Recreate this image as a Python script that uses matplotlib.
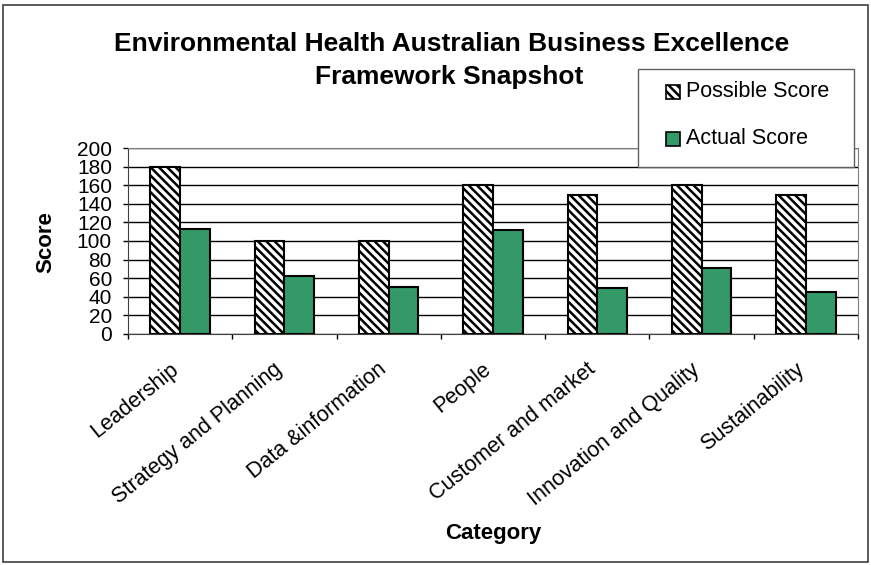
import numpy as np
import matplotlib.pyplot as plt
import matplotlib.transforms as mtransforms
from matplotlib.patches import Rectangle

plt.rcParams['font.family'] = ['Liberation Sans', 'DejaVu Sans']
plt.rcParams['hatch.linewidth'] = 1.8

categories = ['Leadership', 'Strategy and Planning', 'Data &information', 'People',
              'Customer and market', 'Innovation and Quality', 'Sustainability']
possible_score = [180, 100, 100, 160, 150, 160, 150]
actual_score = [113, 62, 51, 112, 49, 71, 45]
series_names = ['Possible Score', 'Actual Score']
title_lines = ['Environmental Health Australian Business Excellence',
               'Framework Snapshot']

green = '#339966'
stripes = '\\\\\\\\'

W, H = 871, 565
fig = plt.figure(figsize=(W / 100, H / 100), dpi=100)
ax = fig.add_axes([0.147, 0.409, 0.838, 0.329])


def px(x0, y0):
    # pixel position (from top-left) -> figure fraction
    return x0 / W, 1 - y0 / H


x = np.arange(len(categories))
w = 0.285
ax.bar(x - w / 2, possible_score, w, color='white', edgecolor='black',
       hatch=stripes, linewidth=1.5, zorder=3)
ax.bar(x + w / 2, actual_score, w, color=green, edgecolor='black',
       linewidth=1.5, zorder=3)

ax.set_xlim(-0.5, len(categories) - 0.5)
ax.set_ylim(0, 200)
ax.set_yticks(range(0, 201, 20))
ax.yaxis.grid(True, color='black', linewidth=1, zorder=0)
ax.set_axisbelow(True)

# category labels sit at centres, tick marks at the boundaries
ax.set_xticks(x)
ax.set_xticklabels(categories, rotation=39, ha='right', rotation_mode='anchor',
                   fontsize=15.5)
ax.tick_params(axis='x', which='major', length=0, pad=18)
shift = mtransforms.ScaledTranslation(-0.11, 0, fig.dpi_scale_trans)
for lbl in ax.get_xticklabels():
    lbl.set_transform(lbl.get_transform() + shift)
ax.set_xticks(np.arange(-0.5, len(categories)), minor=True)
ax.tick_params(axis='x', which='minor', length=3.6, width=1, direction='out')
ax.tick_params(axis='y', labelsize=15, length=3.6, width=1, direction='out', pad=8)

for side in ['top', 'right']:
    ax.spines[side].set_color('#808080')
for side in ['left', 'bottom']:
    ax.spines[side].set_color('#404040')

fig.text(*px(46, 242), 'Score', fontsize=16, fontweight='bold',
         rotation=90, ha='center', va='center')
fig.text(*px(493, 533), 'Category', fontsize=16, fontweight='bold',
         ha='center', va='center')

fig.text(*px(452, 44), title_lines[0], fontsize=19, fontweight='bold',
         ha='center', va='center')
fig.text(*px(449, 77), title_lines[1], fontsize=19, fontweight='bold',
         ha='center', va='center')

# legend box drawn on the figure, overlapping the top of the plot
lx0, ly0 = px(638, 167)
fig.add_artist(Rectangle((lx0, ly0), 216 / W, 98 / H, transform=fig.transFigure,
                         facecolor='white', edgecolor='#606060', linewidth=1,
                         zorder=5))
legend_rows = [(series_names[0], 'white', stripes, 92),
               (series_names[1], green, None, 139)]
for name, face, hatch, yc in legend_rows:
    hx, hy = px(666, yc + 7)
    fig.add_artist(Rectangle((hx, hy), 14 / W, 14 / H, transform=fig.transFigure,
                             facecolor=face, edgecolor='black', hatch=hatch,
                             linewidth=1.2, zorder=6))
    fig.text(*px(686, yc), name, fontsize=15.5, ha='left', va='center', zorder=6)

fig.add_artist(Rectangle(px(3, 562), 865 / W, 557 / H,
                         transform=fig.transFigure, fill=False,
                         edgecolor='#404040', linewidth=1.2))

fig.savefig('out.png', dpi=100)
